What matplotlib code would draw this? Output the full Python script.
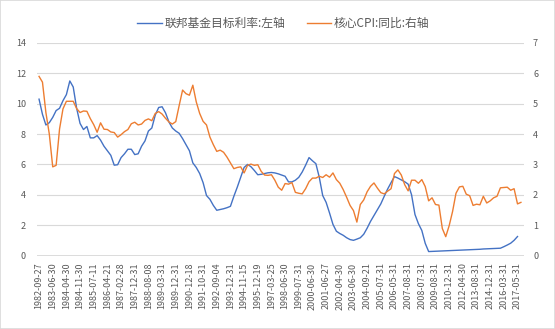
import numpy as np
import matplotlib.pyplot as plt
from matplotlib.patches import Rectangle

plt.rcParams['font.family'] = ['Noto Sans CJK SC', 'DejaVu Sans']

# 横轴日期标签（每4个类别标注一次）
fechas = ['1982-09-27', '1983-06-30', '1984-04-30', '1984-11-30', '1985-07-11',
          '1986-04-21', '1987-02-28', '1987-12-31', '1988-08-08', '1989-03-31',
          '1989-12-31', '1990-12-18', '1991-10-31', '1992-09-04', '1993-12-31',
          '1994-11-15', '1995-12-19', '1997-03-25', '1998-06-30', '1999-07-31',
          '2000-06-30', '2001-06-27', '2002-04-30', '2003-06-30', '2004-09-21',
          '2005-07-31', '2006-05-31', '2007-08-31', '2008-07-31', '2009-08-31',
          '2010-12-31', '2012-04-30', '2013-08-31', '2014-12-31', '2016-03-31',
          '2017-05-31']
paso_etiqueta = 4

# 联邦基金目标利率 (%), 左轴
fed_funds = [10.3, 9.3, 8.6, 8.75, 9.1, 9.55, 9.7, 10.2, 10.6, 11.5,
             11.1, 9.7, 8.7, 8.3, 8.5, 7.75, 7.75, 7.9, 7.6, 7.2,
             6.9, 6.6, 5.95, 5.98, 6.45, 6.7, 7.0, 7.0, 6.65, 6.7,
             7.2, 7.55, 8.2, 8.4, 9.25, 9.75, 9.8, 9.4, 8.8, 8.4,
             8.2, 8.05, 7.7, 7.3, 6.9, 6.1, 5.8, 5.4, 4.8, 3.95,
             3.7, 3.3, 2.98, 3.03, 3.08, 3.15, 3.24, 3.9, 4.5, 5.15,
             5.8, 6.0, 5.85, 5.6, 5.32, 5.35, 5.4, 5.45, 5.47, 5.44,
             5.38, 5.3, 5.22, 4.85, 4.85, 4.96, 5.15, 5.5, 5.95, 6.45,
             6.24, 6.05, 5.15, 3.95, 3.5, 2.8, 2.05, 1.6, 1.45, 1.33,
             1.17, 1.05, 1.0, 1.08, 1.17, 1.4, 1.8, 2.25, 2.63, 3.0,
             3.4, 3.9, 4.38, 4.8, 5.2, 5.1, 4.98, 4.86, 4.7, 4.0,
             2.7, 2.1, 1.65, 0.8, 0.26, 0.27, 0.28, 0.29, 0.3, 0.31,
             0.32, 0.33, 0.34, 0.35, 0.36, 0.37, 0.38, 0.39, 0.4, 0.41,
             0.43, 0.44, 0.45, 0.46, 0.47, 0.48, 0.58, 0.69, 0.81, 1.0,
             1.25]

# 核心CPI同比 (%), 右轴
core_cpi = [5.9, 5.71, 4.71, 4.0, 2.92, 2.97, 4.17, 4.83, 5.08, 5.08,
            5.08, 4.84, 4.71, 4.76, 4.75, 4.51, 4.31, 4.06, 4.37, 4.16,
            4.15, 4.07, 4.05, 3.9, 3.98, 4.08, 4.15, 4.34, 4.39, 4.3,
            4.33, 4.45, 4.5, 4.44, 4.68, 4.74, 4.66, 4.52, 4.4, 4.33,
            4.41, 4.94, 5.45, 5.33, 5.28, 5.61, 5.06, 4.68, 4.42, 4.3,
            3.9, 3.65, 3.43, 3.47, 3.4, 3.24, 3.05, 2.86, 2.9, 2.92,
            2.72, 2.97, 3.01, 2.97, 2.99, 2.77, 2.65, 2.64, 2.66, 2.48,
            2.25, 2.15, 2.37, 2.35, 2.4, 2.08, 2.05, 2.03, 2.2, 2.43,
            2.55, 2.55, 2.61, 2.57, 2.66, 2.58, 2.72, 2.5, 2.38, 2.17,
            1.92, 1.65, 1.48, 1.1, 1.68, 1.83, 2.1, 2.28, 2.39, 2.22,
            2.07, 2.03, 2.12, 2.2, 2.7, 2.82, 2.65, 2.33, 2.13, 2.48,
            2.48, 2.38, 2.5, 2.27, 1.8, 1.9, 1.68, 1.66, 0.89, 0.62,
            0.98, 1.45, 2.05, 2.26, 2.28, 2.02, 1.97, 1.65, 1.69, 1.67,
            1.95, 1.73, 1.8, 1.9, 1.95, 2.23, 2.24, 2.25, 2.15, 2.2,
            1.7, 1.75]

GRIS_TEXTO = '#595959'
GRIS_LINEA = '#D9D9D9'

fig = plt.figure(figsize=(5.55, 3.29), dpi=100)
fig.patches.append(Rectangle((0, 0), 1, 1, transform=fig.transFigure,
                             facecolor='none', edgecolor=GRIS_LINEA, lw=1.2))

ax = fig.add_axes([37 / 555, 1 - 255.5 / 329, 487 / 555, 212.5 / 329])
ax2 = ax.twinx()

l1, = ax.plot(np.arange(len(fed_funds)), fed_funds, color='#4472C4', lw=1.0,
              label='联邦基金目标利率:左轴')
l2, = ax2.plot(np.arange(len(core_cpi)), core_cpi, color='#ED7D31', lw=1.0,
               label='核心CPI:同比:右轴')

ax.set_xlim(-0.6, 141.9)
ax.set_ylim(0, 14)
ax2.set_ylim(0, 7)
ax.set_yticks(range(0, 15, 2))
ax2.set_yticks(range(0, 8))
ax.set_xticks(np.arange(len(fechas)) * paso_etiqueta)
ax.set_xticklabels(fechas, rotation=90)

ax.grid(axis='y', color=GRIS_LINEA, lw=0.8)
ax.set_axisbelow(True)
for a in (ax, ax2):
    for lado in ('top', 'left', 'right'):
        a.spines[lado].set_visible(False)
    a.spines['bottom'].set_visible(False)
ax.axhline(0, color=GRIS_LINEA, lw=2.0, zorder=0.5)

ax.tick_params(axis='x', length=0, labelsize=6.5, labelcolor=GRIS_TEXTO, pad=5)
ax.tick_params(axis='y', length=0, labelsize=6.5, labelcolor=GRIS_TEXTO, pad=8)
ax2.tick_params(axis='y', length=0, labelsize=6.5, labelcolor=GRIS_TEXTO, pad=6.5)

fig.legend(handles=[l1, l2], loc='center', bbox_to_anchor=(0.5105, 0.928),
           ncol=2, frameon=False, fontsize=8.5, labelcolor=GRIS_TEXTO,
           handlelength=2.1, handletextpad=0.2, columnspacing=1.8)

fig.savefig('out.png', dpi=100)
